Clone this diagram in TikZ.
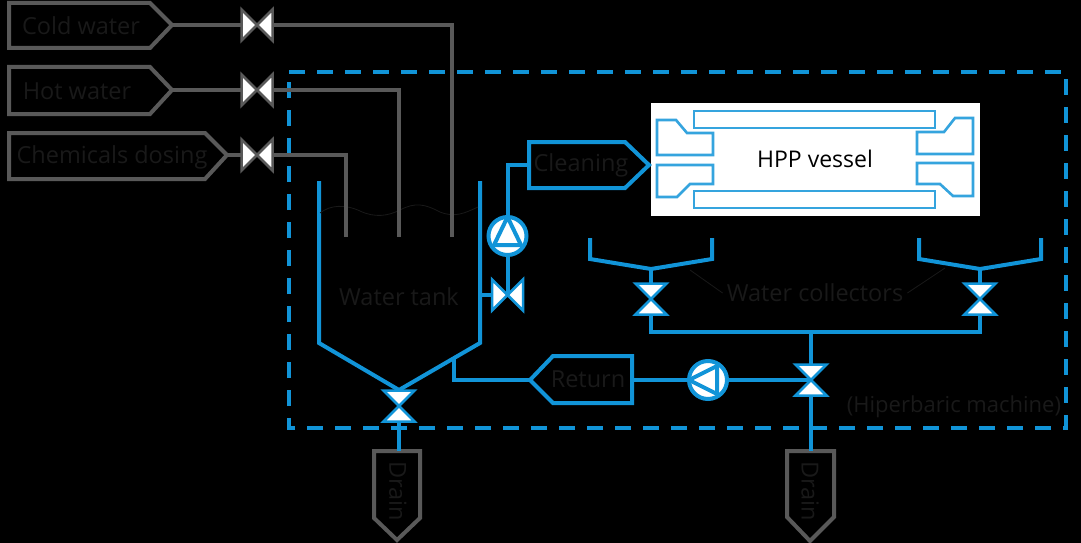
\documentclass[tikz,border=0pt]{standalone}
\usepackage{fontspec}
\setmainfont{Open Sans}
\definecolor{pipeblue}{HTML}{1194D8}
\definecolor{pipegray}{HTML}{595959}
\definecolor{faint}{HTML}{191919}
\tikzset{
  graypipe/.style={draw=pipegray,line width=4pt,line join=miter},
  bluepipe/.style={draw=pipeblue,line width=4pt,line join=miter},
  vesselpart/.style={draw=pipeblue!85!white,line width=2.6pt,fill=white},
  faintlabel/.style={text=faint,font=\fontsize{23.5}{25}\selectfont,inner sep=0pt},
  thinline/.style={draw=faint,line width=0.8pt},
  valvebox/.style={minimum width=31pt,minimum height=31pt,inner sep=0pt,outer sep=0pt},
  pumpbody/.style={circle,minimum size=38pt,inner sep=0pt,outer sep=0pt,draw=pipeblue,line width=4pt,fill=white},
}
\newcommand{\hvalve}[4]{% name, x, y, colour
  \node[valvebox] (#1) at (#2,#3) {};
  \draw[fill=white,draw=#4,line width=2.5pt,line join=miter]
    (#1.north west) -- (#1.south east) -- (#1.north east) -- (#1.south west) -- cycle;
}
\newcommand{\vvalve}[4]{%
  \node[valvebox] (#1) at (#2,#3) {};
  \draw[fill=white,draw=#4,line width=2.5pt,line join=miter]
    (#1.north west) -- (#1.south east) -- (#1.south west) -- (#1.north east) -- cycle;
}
\begin{document}
\begin{tikzpicture}[x=1pt,y=-1pt]
\useasboundingbox[fill=black] (0,0) rectangle (1081,543);

% machine boundary
\draw[draw=pipeblue,line width=4pt,dash pattern=on 16pt off 12pt]
  (289,72) -- (1066,72) -- (1066,428) -- (289,428) -- cycle;

% white vessel panel
\fill[white] (651,103) rectangle (980,216);
\draw[vesselpart] (694,111) rectangle (935,128);
\draw[vesselpart] (694,191) rectangle (935,208);
\draw[vesselpart] (657,120) -- (676,120) -- (687,133) -- (713,133) -- (713,155) -- (657,155) -- cycle;
\draw[vesselpart] (657,165) -- (713,165) -- (713,184) -- (690,184) -- (677,197) -- (657,197) -- cycle;
\draw[vesselpart] (973,118) -- (955,118) -- (944,132) -- (917,132) -- (917,154) -- (973,154) -- cycle;
\draw[vesselpart] (973,163) -- (917,163) -- (917,184) -- (940,184) -- (953,196) -- (973,196) -- cycle;
\node[text=black,font=\fontsize{23}{25}\selectfont,inner sep=0pt] (vessel) at (815,159) {HPP vessel};

% source tags
\coordinate (coldtip) at (172,25);
\coordinate (hottip) at (172,90);
\coordinate (chemtip) at (227,155);
\draw[graypipe] (9,3) -- (150,3) -- (coldtip) -- (150,48) -- (9,48) -- cycle;
\draw[graypipe] (9,67) -- (150,67) -- (hottip) -- (150,114) -- (9,114) -- cycle;
\draw[graypipe] (9,133) -- (205,133) -- (chemtip) -- (205,179) -- (9,179) -- cycle;
\node[faintlabel] (coldlabel) at (81,26) {Cold water};
\node[faintlabel] (hotlabel) at (77,91) {Hot water};
\node[faintlabel] (chemlabel) at (112,157) {Chemicals dosing};

% inlet ends
\coordinate (coldend) at (452,237);
\coordinate (hotend) at (399,237);
\coordinate (chemend) at (346,237);

% tank
\coordinate (tankbottom) at (399,390);
\draw[bluepipe] (319,181) -- (319,343) -- (tankbottom) -- (480,343) -- (480,181);
\draw[thinline] (320,213) .. controls (330,205) and (345,204) .. (360,211)
  .. controls (375,218) and (388,216) .. (400,210)
  .. controls (415,202) and (425,204) .. (440,212)
  .. controls (455,218) and (465,213) .. (478,207);
\node[faintlabel] (tanklabel) at (399,297) {Water tank};

% cleaning tag
\coordinate (cleanport) at (529,165);
\draw[bluepipe] (529,142) -- (625,142) -- (649,165) -- (625,188) -- (529,188) -- cycle;
\node[faintlabel] (cleanlabel) at (581,165) {Cleaning};

% return tag
\coordinate (returntip) at (530,380);
\coordinate (returnport) at (632,380);
\coordinate (returntap) at (454,358);
\draw[bluepipe] (returntip) -- (553,356) -- (632,356) -- (632,403) -- (553,403) -- cycle;
\node[faintlabel] (returnlabel) at (588,379) {Return};

% drains
\coordinate (drainAtop) at (397,451);
\coordinate (drainBtop) at (811,451);
\draw[graypipe] (374,451) -- (420,451) -- (420,518) -- (397,540) -- (374,518) -- cycle;
\draw[graypipe] (787,451) -- (834,451) -- (834,517) -- (810,541) -- (787,517) -- cycle;
\node[faintlabel,rotate=-90] (drainAlabel) at (398,491) {Drain};
\node[faintlabel,rotate=-90] (drainBlabel) at (810,491) {Drain};

% collectors
\coordinate (colLbottom) at (651,269);
\coordinate (colRbottom) at (980,269);
\draw[bluepipe] (590,238) -- (590,259) -- (colLbottom) -- (712,259) -- (712,238);
\draw[bluepipe] (919,238) -- (919,259) -- (colRbottom) -- (1041,259) -- (1041,238);
\node[faintlabel] (collabel) at (815,293) {Water collectors};
\coordinate (leadL) at (690,270);
\coordinate (leadR) at (945,268);
\draw[thinline] (collabel.west) ++(-4,0) -- (leadL);
\draw[thinline] (collabel.east) ++(4,0) -- (leadR);
\coordinate (headerL) at (649,332);
\coordinate (headerR) at (982,332);
\coordinate (headerM) at (811,332);

\node[faintlabel,font=\fontsize{22}{24}\selectfont] (machinelabel) at (954,407) {(Hiperbaric machine)};

% valves and pumps
\hvalve{vcold}{257}{25}{pipegray}
\hvalve{vhot}{257}{90}{pipegray}
\hvalve{vchem}{257}{155}{pipegray}
\coordinate (tankside) at (480,295);

% gray pipes
\draw[graypipe] (coldtip) -- (vcold.west);
\draw[graypipe] (hottip) -- (vhot.west);
\draw[graypipe] (chemtip) -- (vchem.west);
\draw[graypipe] (vcold.east) -| (coldend);
\draw[graypipe] (vhot.east) -| (hotend);
\draw[graypipe] (vchem.east) -| (chemend);

% blue pipes
\node[pumpbody] (pumpup) at (507.5,236) {};
\node[pumpbody] (pumpleft) at (708,380) {};
\draw[bluepipe,fill=white] (pumpup.north) -- (521,245) -- (494,245) -- cycle;
\draw[bluepipe,fill=white] (pumpleft.west) -- (717,366) -- (717,394) -- cycle;

\draw[bluepipe] (cleanport) -| (pumpup.north);
\draw[bluepipe] (returntap) |- (returntip);
\draw[bluepipe] (returnport) -- (pumpleft.west);
\draw[bluepipe] (headerL) -- (headerR);

\hvalve{vclean}{507.5}{295}{pipeblue}
\vvalve{vtank}{399}{406}{pipeblue}
\vvalve{vret}{811}{380}{pipeblue}
\vvalve{vcolL}{651}{299}{pipeblue}
\vvalve{vcolR}{980}{299}{pipeblue}

\draw[bluepipe] (tankside) -- (vclean.west);
\draw[bluepipe] (vclean.center) -- (pumpup.south);
\draw[bluepipe] (vtank.south) -- (drainAtop -| vtank.south);
\draw[bluepipe] (pumpleft.east) -- (vret.center);
\draw[bluepipe] (headerM) -- (vret.north);
\draw[bluepipe] (vret.south) -- (drainBtop);
\draw[bluepipe] (colLbottom) -- (vcolL.north);
\draw[bluepipe] (vcolL.south) -- (vcolL.south |- headerL);
\draw[bluepipe] (colRbottom) -- (vcolR.north);
\draw[bluepipe] (vcolR.south) -- (vcolR.south |- headerR);
\end{tikzpicture}
\end{document}
